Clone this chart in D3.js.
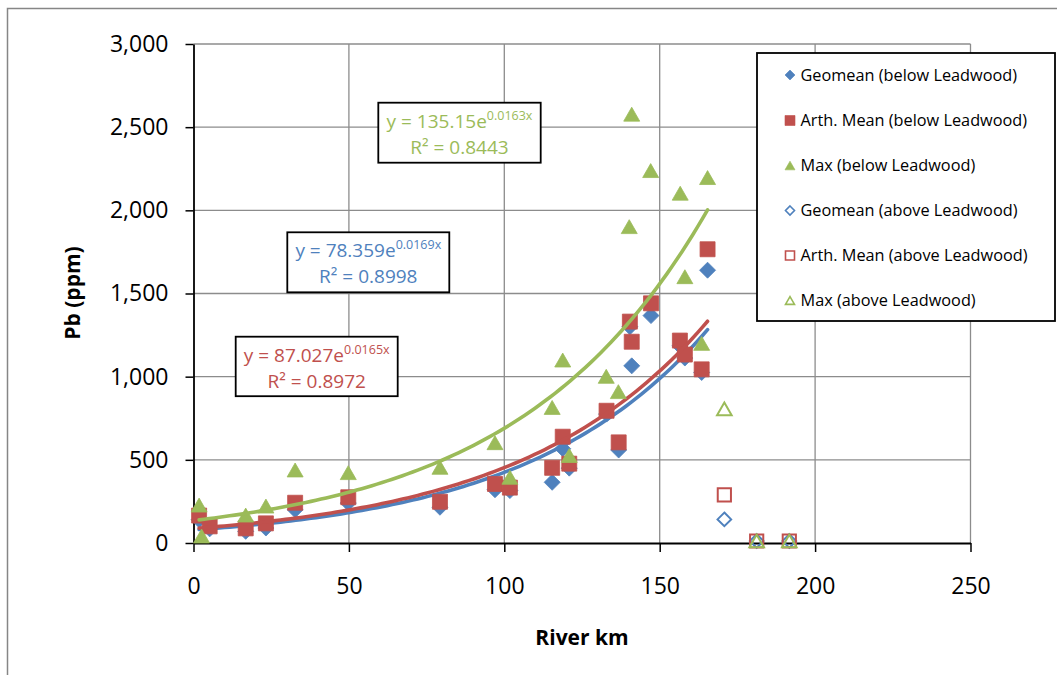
<!DOCTYPE html>
<html><head><meta charset="utf-8">
<script src="https://cdn.jsdelivr.net/npm/d3@7"></script>
<style>body{margin:0;background:#fff} svg{display:block} text{font-family:"Open Sans",sans-serif}</style>
</head><body><svg id="c" width="1057" height="675"></svg>
<script>
// ---------- data ----------
const geoBelowKm  = [1.8, 5.2, 16.8, 23.3, 32.7, 49.8, 79.3, 97.0, 101.8, 115.4, 118.8, 120.9, 132.9, 136.8, 140.4, 141.0, 147.2, 156.5, 158.1, 163.5, 165.4];
const geoBelowPb  = [140, 85, 70, 90, 200, 240, 215, 320, 315, 365, 567, 450, 775, 559, 1300, 1065, 1367, 1185, 1112, 1025, 1640];
const meanBelowKm = [1.8, 5.2, 16.8, 23.3, 32.7, 49.8, 79.3, 97.0, 101.8, 115.4, 118.8, 120.9, 132.9, 136.8, 140.4, 141.0, 147.2, 156.5, 158.1, 163.5, 165.4];
const meanBelowPb = [165, 100, 88, 118, 242, 275, 248, 355, 333, 452, 639, 477, 795, 605, 1331, 1210, 1441, 1217, 1133, 1044, 1766];
const maxBelowKm  = [1.8, 2.6, 16.8, 23.3, 32.7, 49.8, 79.3, 97.0, 101.8, 115.4, 118.8, 120.9, 132.8, 136.7, 140.2, 141.0, 147.1, 156.6, 158.1, 163.5, 165.4];
const maxBelowPb  = [228, 42, 168, 222, 439, 423, 455, 603, 395, 815, 1100, 526, 1002, 910, 1902, 2578, 2239, 2103, 1601, 1200, 2197];
const geoAboveKm  = [170.8, 181.2, 191.7];
const geoAbovePb  = [142, 12, 12];
const meanAboveKm = [170.8, 181.2, 191.7];
const meanAbovePb = [289, 12, 12];
const maxAboveKm  = [170.8, 181.2, 191.7];
const maxAbovePb  = [806, 12, 12];

const seriesNames = ["Geomean (below Leadwood)", "Arth. Mean (below Leadwood)", "Max (below Leadwood)",
                     "Geomean (above Leadwood)", "Arth. Mean (above Leadwood)", "Max (above Leadwood)"];
// exponential trendline coefficients (y = a e^(b x)) and R²
const trendA  = [78.359, 87.027, 135.15];
const trendB  = [0.0169, 0.0165, 0.0163];
const trendR2 = ["0.8998", "0.8972", "0.8443"];
const trendEqA = ["78.359", "87.027", "135.15"];
const trendEqB = ["0.0169", "0.0165", "0.0163"];

const xTicks = [0, 50, 100, 150, 200, 250];
const yTicks = [0, 500, 1000, 1500, 2000, 2500, 3000];

// ---------- styling ----------
const BLUE = "#4F81BD", RED = "#C0504D", GREEN = "#9BBB59";
const colors = [BLUE, RED, GREEN, BLUE, RED, GREEN];
const shapes = ["diamond", "square", "triangle", "diamond", "square", "triangle"];

const svg = d3.select("#c");
const x = d3.scaleLinear().domain([0, 250]).range([193.5, 970.5]);
const y = d3.scaleLinear().domain([0, 3000]).range([543, 44]);

// outer chart border
svg.append("rect").attr("x", 7.5).attr("y", 8.5).attr("width", 1100).attr("height", 700)
  .attr("fill", "#fff").attr("stroke", "#868686").attr("stroke-width", 1.5);

// gridlines
const grid = svg.append("g").attr("stroke", "#8c8c8c").attr("stroke-width", 1.3);
grid.selectAll(".gy").data(yTicks.filter(d => d > 0)).enter().append("line")
  .attr("x1", x(0)).attr("x2", x(250)).attr("y1", d => y(d)).attr("y2", d => y(d));
grid.selectAll(".gx").data(xTicks.filter(d => d > 0)).enter().append("line")
  .attr("y1", y(0)).attr("y2", y(3000)).attr("x1", d => x(d)).attr("x2", d => x(d));

// axes
const yAxis = d3.axisLeft(y).tickValues(yTicks).tickFormat(d3.format(",")).tickSize(8).tickSizeOuter(0).tickPadding(17);
const gy = svg.append("g").attr("transform", `translate(${x(0)},0)`).call(yAxis);
const xAxis = d3.axisBottom(x).tickValues(xTicks).tickFormat(d3.format("d")).tickSize(9).tickSizeOuter(0).tickPadding(26);
const gx = svg.append("g").attr("transform", `translate(0,${y(0)})`).call(xAxis);
[gx, gy].forEach(g => {
  g.select(".domain").attr("stroke", "#000").attr("stroke-width", 1.8);
  g.selectAll(".tick line").attr("stroke", "#000").attr("stroke-width", 1.5);
  g.selectAll(".tick text").attr("font-family", "Open Sans").attr("font-size", 23).attr("fill", "#000");
});

// axis titles
svg.append("text").attr("x", 582).attr("y", 645).attr("text-anchor", "middle")
  .attr("font-size", 21).attr("font-weight", "bold").text("River km");
svg.append("text").attr("transform", "translate(80,293) rotate(-90)").attr("text-anchor", "middle")
  .attr("font-size", 21).attr("font-weight", "bold").text("Pb (ppm)");

// marker paths
function markerPath(shape, s) {
  if (shape === "diamond") return `M0,${-s}L${s},0L0,${s}L${-s},0Z`;
  if (shape === "square") return `M${-s},${-s}H${s}V${s}H${-s}Z`;
  return `M0,${-s * 0.87}L${s},${s * 0.87}L${-s},${s * 0.87}Z`;
}
const sizes = {diamond: 8, square: 7.5, triangle: 8};
const openSizes = {diamond: 6.8, square: 6.6, triangle: 7.3};

function drawPoints(kms, pbs, i, open) {
  const pts = kms.map((k, j) => [k, pbs[j]]);
  svg.append("g").selectAll("path").data(pts).enter().append("path")
    .attr("transform", d => `translate(${x(d[0])},${y(d[1])})`)
    .attr("d", markerPath(shapes[i], open ? openSizes[shapes[i]] : sizes[shapes[i]]))
    .attr("fill", open ? "none" : colors[i])
    .attr("stroke", colors[i])
    .attr("stroke-width", open ? 2 : 0.8);
}
function drawTrend(kms, i) {
  const lo = d3.min(kms), hi = d3.max(kms);
  const xs = d3.range(0, 101).map(t => lo + (hi - lo) * t / 100);
  const line = d3.line().x(d => x(d)).y(d => y(trendA[i] * Math.exp(trendB[i] * d)));
  svg.append("path").datum(xs).attr("d", line).attr("fill", "none")
    .attr("stroke", colors[i]).attr("stroke-width", 3.6).attr("stroke-linecap", "round");
}

drawPoints(geoBelowKm, geoBelowPb, 0, false);
drawTrend(geoBelowKm, 0);
drawPoints(meanBelowKm, meanBelowPb, 1, false);
drawTrend(meanBelowKm, 1);
drawPoints(maxBelowKm, maxBelowPb, 2, false);
drawTrend(maxBelowKm, 2);
drawPoints(geoAboveKm, geoAbovePb, 3, true);
drawPoints(meanAboveKm, meanAbovePb, 4, true);
drawPoints(maxAboveKm, maxAbovePb, 5, true);

// equation labels
const eqBoxes = [
  {i: 0, x0: 287.3, y0: 232.3, w: 162, h: 60},
  {i: 1, x0: 235.7, y0: 336.7, w: 162, h: 59.5},
  {i: 2, x0: 378.3, y0: 102.7, w: 162.4, h: 60}
];
eqBoxes.forEach(b => {
  const g = svg.append("g");
  g.append("rect").attr("x", b.x0).attr("y", b.y0).attr("width", b.w).attr("height", b.h)
    .attr("fill", "#fff").attr("stroke", "#000").attr("stroke-width", 1.8);
  const cx = b.x0 + b.w / 2;
  const t1 = g.append("text").attr("x", cx).attr("y", b.y0 + 25).attr("text-anchor", "middle")
    .attr("font-size", 19).attr("fill", colors[b.i]);
  t1.append("tspan").text(`y = ${trendEqA[b.i]}e`);
  t1.append("tspan").attr("dy", -8).attr("font-size", 12.5).text(`${trendEqB[b.i]}x`);
  g.append("text").attr("x", cx).attr("y", b.y0 + 51).attr("text-anchor", "middle")
    .attr("font-size", 19).attr("fill", colors[b.i]).text(`R² = ${trendR2[b.i]}`);
});

// legend
const lg = svg.append("g");
lg.append("rect").attr("x", 757).attr("y", 53).attr("width", 298).attr("height", 268)
  .attr("fill", "#fff").attr("stroke", "#000").attr("stroke-width", 1.8);
const legendY = [75, 120.5, 165.5, 210.5, 255.5, 300.5];
seriesNames.forEach((name, i) => {
  const open = i >= 3;
  const s = shapes[i];
  lg.append("path").attr("transform", `translate(790,${legendY[i]})`)
    .attr("d", markerPath(s, open ? 4.5 : 5))
    .attr("fill", open ? "#fff" : colors[i]).attr("stroke", colors[i]).attr("stroke-width", open ? 1.6 : 0.6);
  lg.append("text").attr("x", 800.5).attr("y", legendY[i]).attr("dy", "0.36em")
    .attr("font-size", 16.3).attr("fill", "#000").text(name);
});
</script>
</body></html>
